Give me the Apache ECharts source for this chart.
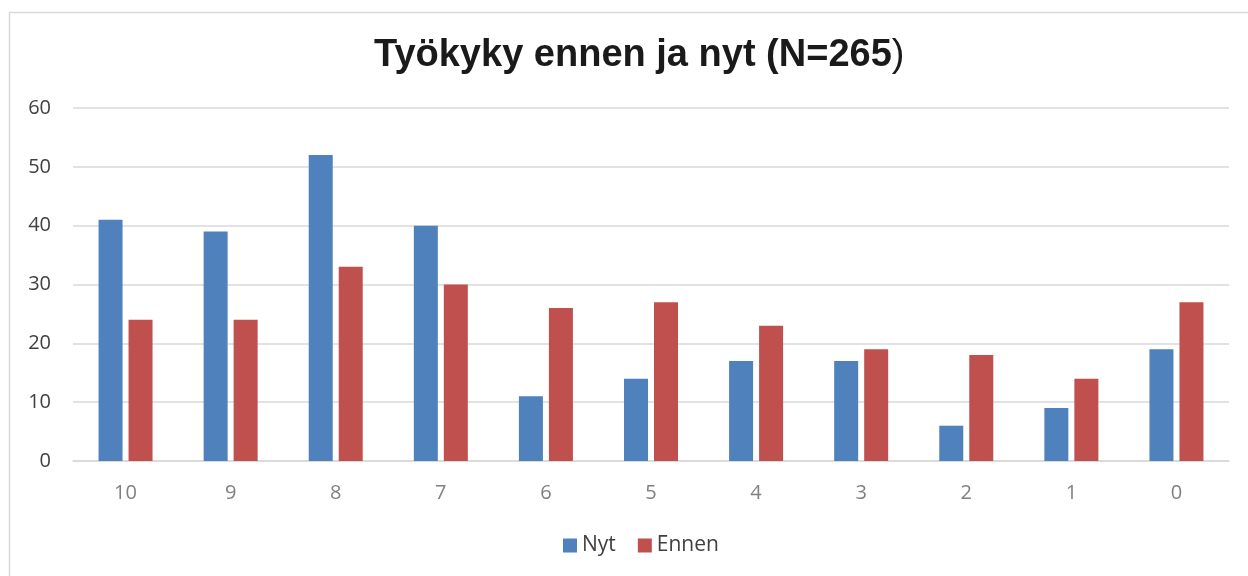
<!DOCTYPE html>
<html>
<head>
<meta charset="utf-8">
<script src="https://cdn.jsdelivr.net/npm/echarts@6/dist/echarts.min.js"></script>
<style>
  html, body { margin: 0; padding: 0; background: #fff; }
  #chart { width: 1248px; height: 576px; }
</style>
</head>
<body>
<div id="chart"></div>
<script>
// --- data ---
const kategoriat = ['10', '9', '8', '7', '6', '5', '4', '3', '2', '1', '0'];
const nyt = [41, 39, 52, 40, 11, 14, 17, 17, 6, 9, 19];
const ennen = [24, 24, 33, 30, 26, 27, 23, 19, 18, 14, 27];
const yTicks = [0, 10, 20, 30, 40, 50, 60];

const chart = echarts.init(document.getElementById('chart'));

const option = {
    animation: false,
    textStyle: { fontFamily: 'Open Sans' },
    graphic: [{
        type: 'rect',
        shape: { x: 9.5, y: 12.5, width: 1300, height: 700 },
        style: { fill: 'none', stroke: '#d9d9d9', lineWidth: 1.5 },
        silent: true
    }],
    title: {
        text: '{b|Työkyky ennen ja nyt (N=265}{n|)}',
        left: 369,
        top: 32,
        textStyle: {
            rich: {
                b: { fontFamily: 'Liberation Sans', fontWeight: 'bold', fontSize: 38, color: '#1a1a1a' },
                n: { fontFamily: 'Liberation Sans', fontWeight: 'normal', fontSize: 38, color: '#1a1a1a' }
            }
        }
    },
    legend: {
        data: ['Nyt', 'Ennen'],
        bottom: 15,
        left: 558,
        itemWidth: 14,
        itemHeight: 14,
        itemGap: 22,
        icon: 'rect',
        textStyle: { fontSize: 21, color: '#404040', fontFamily: 'Open Sans' }
    },
    grid: { left: 73, right: 19, top: 108, bottom: 115, containLabel: false },
    xAxis: {
        type: 'category',
        data: kategoriat,
        axisLine: { show: true, lineStyle: { color: '#d9d9d9', width: 1.5 } },
        axisTick: { show: false },
        axisLabel: { margin: 22, fontSize: 20, color: '#808080' }
    },
    yAxis: {
        type: 'value',
        min: yTicks[0],
        max: yTicks[yTicks.length - 1],
        interval: 10,
        axisLine: { show: false },
        axisTick: { show: false },
        axisLabel: { margin: 22, fontSize: 20, color: '#404040' },
        splitLine: { lineStyle: { color: '#d9d9d9', width: 1.5 } }
    },
    series: [
        {
            name: 'Nyt',
            type: 'bar',
            data: nyt,
            barWidth: 24,
            barGap: '25%',
            itemStyle: { color: '#4f81bd' }
        },
        {
            name: 'Ennen',
            type: 'bar',
            data: ennen,
            barWidth: 24,
            barGap: '25%',
            itemStyle: { color: '#c0504d' }
        }
    ]
};

chart.setOption(option);
</script>
</body>
</html>
